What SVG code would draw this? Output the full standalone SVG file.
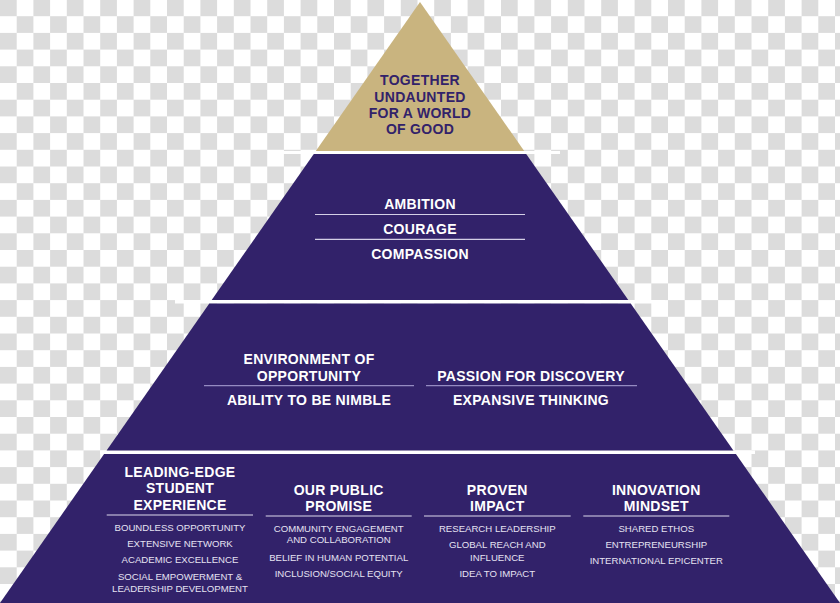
<svg xmlns="http://www.w3.org/2000/svg" width="840" height="603" viewBox="0 0 840 603">
<defs>
<pattern id="chk" x="0" y="-0.5" width="33.4" height="33.4" patternUnits="userSpaceOnUse">
<rect width="33.4" height="33.4" fill="#ffffff"/>
<rect x="0" y="0" width="16.7" height="16.7" fill="#dcdcdc"/>
<rect x="16.7" y="16.7" width="16.7" height="16.7" fill="#dcdcdc"/>
</pattern>
<style>
.band{fill:#32226a}
.gold{fill:#c9b47f}
.gap{fill:#ffffff}
.h{font-family:"Liberation Sans",Arial,sans-serif;font-weight:700;text-anchor:middle;letter-spacing:0.3px}
.gt{fill:#32226a;font-size:14px}
.wt{fill:#ffffff;font-size:14px}
.it{font-family:"Liberation Sans",Arial,sans-serif;font-weight:400;font-size:9.6px;fill:#e6e2f2;text-anchor:middle}
.sep2{stroke:#d4cfe6;stroke-width:1.2}
.sep3{stroke:#958bc2;stroke-width:1.2}
.sep4{stroke:#dcd8ec;stroke-width:1.2}
</style>
</defs>
<rect width="840" height="603" fill="url(#chk)"/>
<g id="gaps">
<rect class="gap" x="280" y="151" width="280" height="3"/>
<rect class="gap" x="175" y="300" width="490" height="3.5"/>
<rect class="gap" x="100" y="450.5" width="655" height="3.5"/>
</g>
<g id="tier-top">
<polygon class="gold" points="420,2 524.2,151 315.8,151"/>
<text class="h gt" x="420" y="85">TOGETHER</text>
<text class="h gt" x="420" y="101.7">UNDAUNTED</text>
<text class="h gt" x="420" y="118.3">FOR A WORLD</text>
<text class="h gt" x="420" y="134">OF GOOD</text>
</g>
<g id="tier-values">
<polygon class="band" points="313.8,154 526.2,154 628.3,300 211.7,300"/>
<text class="h wt" x="420" y="209">AMBITION</text>
<line class="sep2" x1="315" y1="214.5" x2="525" y2="214.5"/>
<text class="h wt" x="420" y="234">COURAGE</text>
<line class="sep2" x1="315" y1="239.3" x2="525" y2="239.3"/>
<text class="h wt" x="420" y="258.7">COMPASSION</text>
</g>
<g id="tier-attributes">
<polygon class="band" points="209.3,303.5 630.7,303.5 733.4,450.5 106.6,450.5"/>
<text class="h wt" x="309" y="364">ENVIRONMENT OF</text>
<text class="h wt" x="309" y="380.7">OPPORTUNITY</text>
<line class="sep3" x1="204" y1="385.7" x2="414" y2="385.7"/>
<text class="h wt" x="309" y="405">ABILITY TO BE NIMBLE</text>
<text class="h wt" x="531" y="380.7">PASSION FOR DISCOVERY</text>
<line class="sep3" x1="426" y1="385.7" x2="637" y2="385.7"/>
<text class="h wt" x="531" y="405">EXPANSIVE THINKING</text>
</g>
<g id="tier-base">
<polygon class="band" points="104.1,454 735.9,454 840,603 0,603"/>
</g>
<g id="pillar-student">
<text class="h wt" x="180" y="477.3">LEADING-EDGE</text>
<text class="h wt" x="180" y="493.3">STUDENT</text>
<text class="h wt" x="180" y="510">EXPERIENCE</text>
<line class="sep4" x1="106.7" y1="515" x2="253" y2="515"/>
<text class="it" x="180" y="530.7">BOUNDLESS OPPORTUNITY</text>
<text class="it" x="180" y="546.7">EXTENSIVE NETWORK</text>
<text class="it" x="180" y="563.3">ACADEMIC EXCELLENCE</text>
<text class="it" x="180" y="580">SOCIAL EMPOWERMENT &amp;</text>
<text class="it" x="180" y="591.7">LEADERSHIP DEVELOPMENT</text>
</g>
<g id="pillar-public">
<text class="h wt" x="338.7" y="495">OUR PUBLIC</text>
<text class="h wt" x="338.7" y="511">PROMISE</text>
<line class="sep4" x1="265.7" y1="516" x2="411.7" y2="516"/>
<text class="it" x="338.7" y="532.3">COMMUNITY ENGAGEMENT</text>
<text class="it" x="338.7" y="543.3">AND COLLABORATION</text>
<text class="it" x="338.7" y="560.7">BELIEF IN HUMAN POTENTIAL</text>
<text class="it" x="338.7" y="576.7">INCLUSION/SOCIAL EQUITY</text>
</g>
<g id="pillar-impact">
<text class="h wt" x="497.3" y="495">PROVEN</text>
<text class="h wt" x="497.3" y="511">IMPACT</text>
<line class="sep4" x1="424" y1="516" x2="570.7" y2="516"/>
<text class="it" x="497.3" y="531.7">RESEARCH LEADERSHIP</text>
<text class="it" x="497.3" y="548.3">GLOBAL REACH AND</text>
<text class="it" x="497.3" y="560.7">INFLUENCE</text>
<text class="it" x="497.3" y="576.7">IDEA TO IMPACT</text>
</g>
<g id="pillar-innovation">
<text class="h wt" x="656.3" y="495">INNOVATION</text>
<text class="h wt" x="656.3" y="511">MINDSET</text>
<line class="sep4" x1="583.3" y1="516" x2="729.3" y2="516"/>
<text class="it" x="656.3" y="531.7">SHARED ETHOS</text>
<text class="it" x="656.3" y="548.3">ENTREPRENEURSHIP</text>
<text class="it" x="656.3" y="564.3">INTERNATIONAL EPICENTER</text>
</g>
</svg>
